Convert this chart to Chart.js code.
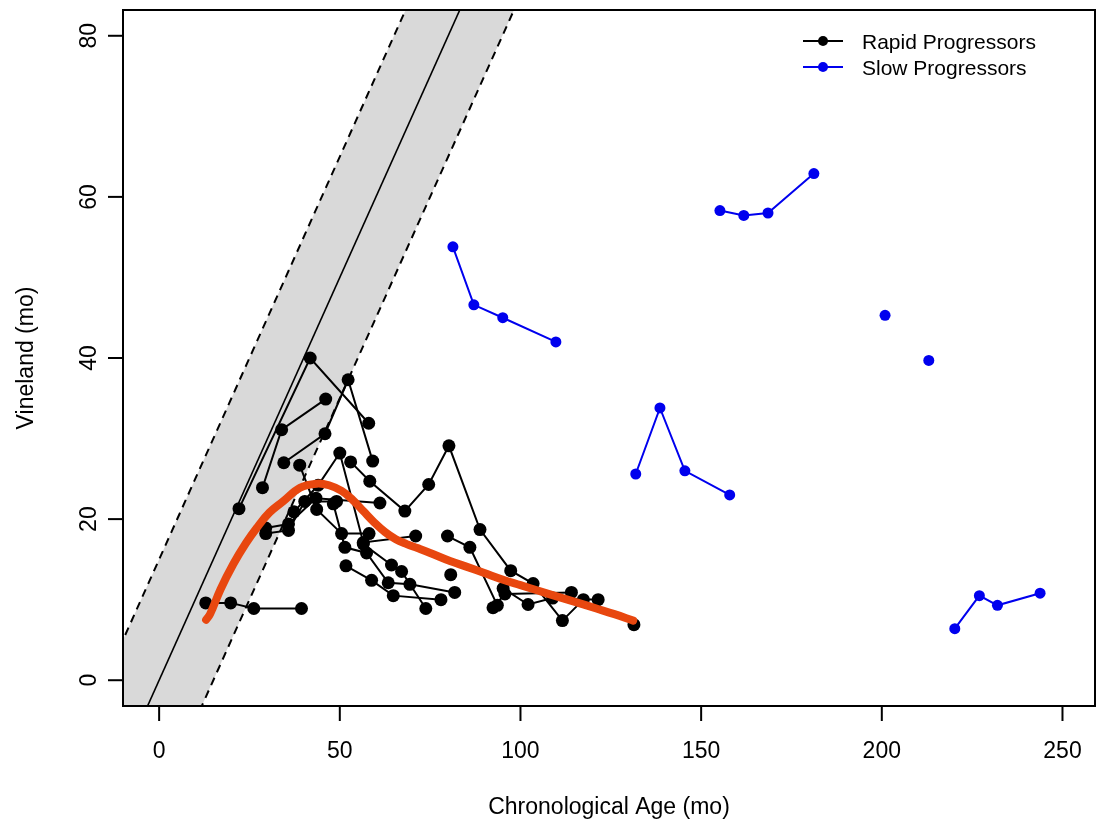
<!DOCTYPE html>
<html><head><meta charset="utf-8">
<script src="https://cdn.jsdelivr.net/npm/chart.js@4.4.1/dist/chart.umd.min.js"></script>
<style>html,body{margin:0;padding:0;background:#fff;}canvas{display:block;}</style>
</head><body>
<canvas id="c" width="1096" height="825"></canvas>
<script>
// ---- data ----
const xTickValues = [0, 50, 100, 150, 200, 250];
const yTickValues = [0, 20, 40, 60, 80];
const xTitle = "Chronological Age (mo)";
const yTitle = "Vineland (mo)";
const legendLabels = ["Rapid Progressors", "Slow Progressors"];

// rapid progressors: one trajectory per child, [age, vineland]
const rapidTrajectories = [
  [[12.9,9.6],[19.8,9.6],[26.2,8.9],[39.4,8.9]],
  [[22.1,21.3],[41.8,40.0],[58.0,31.9]],
  [[28.6,23.9],[33.9,31.1],[46.1,34.9]],
  [[34.5,27.0],[45.9,30.6],[52.3,37.3],[59.1,27.2]],
  [[29.5,18.9],[35.8,19.4],[43.4,22.6],[61.1,22.0]],
  [[29.5,18.2],[35.8,18.6],[40.3,22.2],[49.1,22.2]],
  [[37.3,20.9],[44.0,24.2],[50.0,28.2],[56.5,17.1],[71.0,17.9]],
  [[38.9,26.7],[43.6,21.2],[50.5,18.2],[58.1,18.2]],
  [[53.0,27.1],[58.3,24.7],[68.0,21.0],[74.6,24.3],[80.2,29.1],[88.8,18.7],[97.3,13.6],[103.5,12.0],[111.6,7.4],[117.4,10.0]],
  [[48.2,21.9],[51.4,16.5],[57.4,15.8],[63.4,12.1],[69.4,11.9],[81.8,10.9]],
  [[51.7,14.2],[58.8,12.4],[64.8,10.5],[78.0,10.0]],
  [[56.5,16.9],[64.3,14.3],[67.1,13.5],[73.8,8.9]],
  [[79.8,17.9],[86.0,16.5],[93.6,9.3]],
  [[95.2,11.4],[102.1,9.4],[108.9,10.2],[121.5,10.0]],
  [[92.4,9.0],[95.7,10.7],[114.1,10.9]],
  [[80.7,13.1]],
  [[131.4,6.9]]
];

// slow progressors
const slowTrajectories = [
  [[81.3,53.8],[87.1,46.6],[95.1,45.0],[109.8,42.0]],
  [[131.9,25.6],[138.6,33.8],[145.5,26.0],[157.9,23.0]],
  [[155.2,58.3],[161.8,57.7],[168.5,58.0],[181.2,62.9]],
  [[200.9,45.3]],
  [[213.0,39.7]],
  [[220.2,6.4],[227.0,10.5],[232.0,9.3],[243.8,10.8]]
];

// smooth (lowess) curve of rapid progressors
const smoothAge = [13.0,14.1,17.0,20.5,24.0,27.0,30.5,34.3,39.0,43.6,47.0,50.5,53.5,56.5,59.5,62.5,65.5,68.5,71.5,75.0,80.5,85.0,90.0,95.0,100.0,105.0,110.0,116.0,121.0,126.0,131.2];
const smoothVineland = [7.5,8.2,11.3,14.4,17.0,18.9,20.8,22.2,23.9,24.4,24.2,23.5,22.4,21.0,19.6,18.4,17.5,16.9,16.4,15.8,14.8,14.1,13.3,12.5,11.8,11.1,10.4,9.6,8.9,8.2,7.4];

// identity line and its band
const bandHalfWidth = 15;
const bandAges = [-30, 130];

// ---- build datasets ----
const toPts = arr => arr.map(p => ({x: p[0], y: p[1]}));
const datasets = [];
datasets.push({
  type: 'line', data: bandAges.map(a => ({x: a, y: a + bandHalfWidth})),
  borderColor: '#000', borderWidth: 2, borderDash: [8, 6], pointRadius: 0,
  fill: '+1', backgroundColor: '#d9d9d9', order: 100
});
datasets.push({
  type: 'line', data: bandAges.map(a => ({x: a, y: a - bandHalfWidth})),
  borderColor: '#000', borderWidth: 2, borderDash: [8, 6], pointRadius: 0,
  fill: false, order: 99
});
datasets.push({
  type: 'line', data: bandAges.map(a => ({x: a, y: a})),
  borderColor: '#000', borderWidth: 1.6, pointRadius: 0, fill: false, order: 98
});
rapidTrajectories.forEach(t => datasets.push({
  type: 'line', data: toPts(t), borderColor: '#000', borderWidth: 2,
  pointRadius: 6.5, pointBackgroundColor: '#000', pointBorderWidth: 0,
  fill: false, tension: 0, order: 10
}));
slowTrajectories.forEach(t => datasets.push({
  type: 'line', data: toPts(t), borderColor: '#0000ee', borderWidth: 2,
  pointRadius: 5.5, pointBackgroundColor: '#0000ee', pointBorderWidth: 0,
  fill: false, tension: 0, order: 10
}));
datasets.push({
  type: 'line', data: smoothAge.map((a, i) => ({x: a, y: smoothVineland[i]})),
  borderColor: '#e8470f', borderWidth: 8, borderCapStyle: 'round', borderJoinStyle: 'round',
  pointRadius: 0, fill: false, tension: 0.4, order: 1
});

const FONT = '"Liberation Sans", Arial, Helvetica, sans-serif';

const rAxes = {
  id: 'rAxes',
  afterDraw(chart) {
    const ctx = chart.ctx, a = chart.chartArea;
    const xs = chart.scales.x, ys = chart.scales.y;
    ctx.save();
    ctx.strokeStyle = '#000'; ctx.lineWidth = 2;
    ctx.strokeRect(a.left, a.top, a.right - a.left, a.bottom - a.top);
    ctx.fillStyle = '#000';
    ctx.font = '23px ' + FONT;
    ctx.textAlign = 'center'; ctx.textBaseline = 'alphabetic';
    xTickValues.forEach(v => {
      const px = xs.getPixelForValue(v);
      ctx.beginPath(); ctx.moveTo(px, a.bottom); ctx.lineTo(px, a.bottom + 15); ctx.stroke();
      ctx.fillText(String(v), px, 758);
    });
    yTickValues.forEach(v => {
      const py = ys.getPixelForValue(v);
      ctx.beginPath(); ctx.moveTo(a.left, py); ctx.lineTo(a.left - 15, py); ctx.stroke();
      ctx.save(); ctx.translate(96, py); ctx.rotate(-Math.PI / 2);
      ctx.fillText(String(v), 0, 0); ctx.restore();
    });
    ctx.fillText(xTitle, (a.left + a.right) / 2, 814);
    ctx.save(); ctx.translate(33, (a.top + a.bottom) / 2); ctx.rotate(-Math.PI / 2);
    ctx.fillText(yTitle, 0, 0); ctx.restore();
    const colors = ['#000', '#0000ee'];
    ctx.font = '21px ' + FONT; ctx.textAlign = 'left'; ctx.textBaseline = 'alphabetic';
    legendLabels.forEach((lab, i) => {
      const y = 41 + i * 26;
      ctx.strokeStyle = colors[i]; ctx.fillStyle = colors[i]; ctx.lineWidth = 2;
      ctx.beginPath(); ctx.moveTo(803, y); ctx.lineTo(843, y); ctx.stroke();
      ctx.beginPath(); ctx.arc(823, y, 5, 0, Math.PI * 2); ctx.fill();
      ctx.fillStyle = '#000';
      ctx.fillText(lab, 862, y + 7.5);
    });
    ctx.restore();
  }
};

new Chart(document.getElementById('c'), {
  type: 'scatter',
  data: { datasets },
  options: {
    responsive: false, animation: false, devicePixelRatio: 1, events: [],
    layout: { autoPadding: false, padding: { left: 0, top: 10, right: 1, bottom: 0 } },
    plugins: { legend: { display: false }, tooltip: { enabled: false } },
    scales: {
      x: { type: 'linear', min: -10, max: 259,
           grid: { display: false }, border: { display: false }, ticks: { display: false },
           afterFit: s => { s.height = 119; s.paddingLeft = 0; s.paddingRight = 0; } },
      y: { type: 'linear', min: -3.2, max: 83.2,
           grid: { display: false }, border: { display: false }, ticks: { display: false },
           afterFit: s => { s.width = 123; s.paddingTop = 0; s.paddingBottom = 0; } }
    }
  },
  plugins: [rAxes]
});
</script></body></html>
